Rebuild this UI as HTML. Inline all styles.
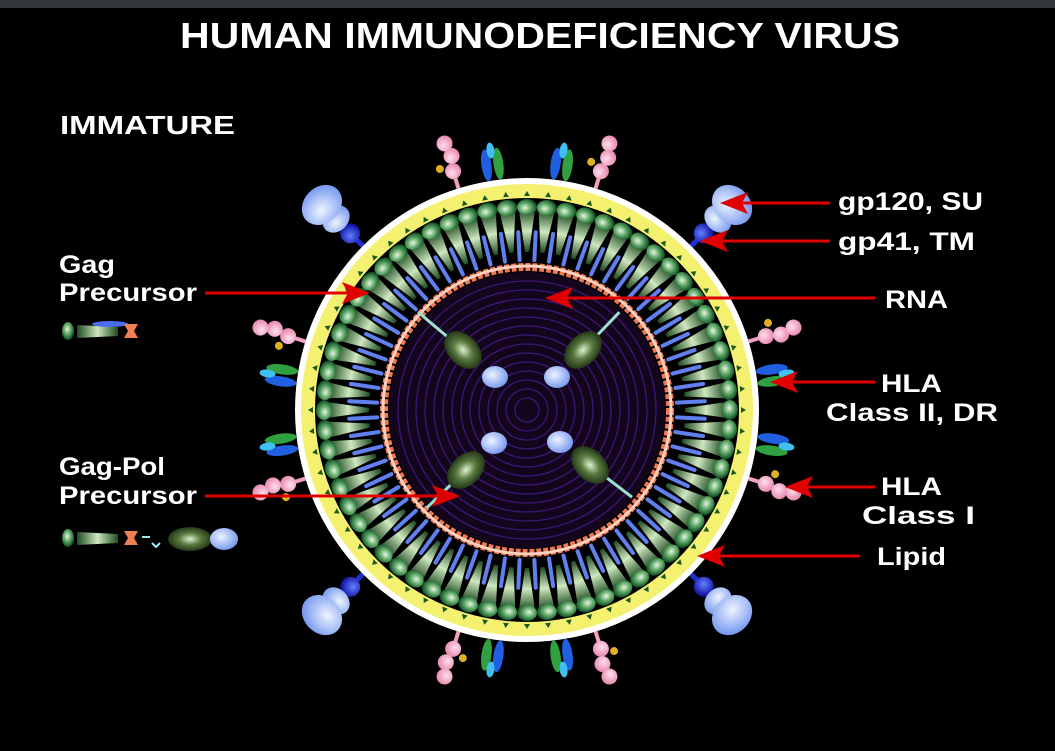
<!DOCTYPE html>
<html><head><meta charset="utf-8"><style>
html,body{margin:0;padding:0;background:#000;}
body{width:1055px;height:751px;overflow:hidden;position:relative;}
svg{position:absolute;left:0;top:0;}
text{font-family:"Liberation Sans",sans-serif;font-weight:bold;fill:#fff;}
</style></head><body>
<svg id="s" width="1055" height="751" viewBox="0 0 1055 751" xmlns="http://www.w3.org/2000/svg">
<defs>
<radialGradient id="bead" cx="0.45" cy="0.4" r="0.6"><stop offset="0" stop-color="#e8f5e0"/><stop offset="0.5" stop-color="#5ea868"/><stop offset="1" stop-color="#0d4a1e"/></radialGradient>
<linearGradient id="cone" x1="0" y1="0" x2="1" y2="0"><stop offset="0" stop-color="#1e4a22"/><stop offset="0.5" stop-color="#cfe8c0"/><stop offset="1" stop-color="#1e4a22"/></linearGradient>
<radialGradient id="cap" cx="0.5" cy="0.5" r="0.55"><stop offset="0" stop-color="#e0f0d0"/><stop offset="0.45" stop-color="#5a7a40"/><stop offset="1" stop-color="#1a2a10"/></radialGradient>
<radialGradient id="lb" cx="0.4" cy="0.4" r="0.6"><stop offset="0" stop-color="#eef4ff"/><stop offset="1" stop-color="#7b9cf0"/></radialGradient>
<radialGradient id="pk" cx="0.4" cy="0.4" r="0.6"><stop offset="0" stop-color="#ffe0ee"/><stop offset="1" stop-color="#e88ab0"/></radialGradient>
<radialGradient id="bl" cx="0.4" cy="0.4" r="0.6"><stop offset="0" stop-color="#6080ff"/><stop offset="1" stop-color="#1010a0"/></radialGradient>
</defs>
<rect x="0" y="0" width="1055" height="8" fill="#35383b"/>
<text x="180" y="48" font-size="36" textLength="720" lengthAdjust="spacingAndGlyphs">HUMAN IMMUNODEFICIENCY VIRUS</text>
<text x="60" y="134" font-size="26" textLength="175" lengthAdjust="spacingAndGlyphs">IMMATURE</text>
<g id="v"></g>
<g font-size="25">
<text x="59" y="273" textLength="56" lengthAdjust="spacingAndGlyphs">Gag</text><text x="59" y="301" textLength="138" lengthAdjust="spacingAndGlyphs">Precursor</text>
<text x="59" y="475" textLength="106" lengthAdjust="spacingAndGlyphs">Gag-Pol</text><text x="59" y="504" textLength="138" lengthAdjust="spacingAndGlyphs">Precursor</text>
<text x="838" y="210" textLength="145" lengthAdjust="spacingAndGlyphs">gp120, SU</text>
<text x="838" y="250" textLength="137" lengthAdjust="spacingAndGlyphs">gp41, TM</text>
<text x="885" y="308" textLength="63" lengthAdjust="spacingAndGlyphs">RNA</text>
<text x="881" y="392" textLength="61" lengthAdjust="spacingAndGlyphs">HLA</text><text x="826" y="421" textLength="172" lengthAdjust="spacingAndGlyphs">Class II, DR</text>
<text x="881" y="495" textLength="61" lengthAdjust="spacingAndGlyphs">HLA</text><text x="862" y="524" textLength="113" lengthAdjust="spacingAndGlyphs">Class I</text>
<text x="877" y="565" textLength="69" lengthAdjust="spacingAndGlyphs">Lipid</text>
</g>
<g id="arr"></g>
<g>
<ellipse cx="68" cy="331" rx="6" ry="9" fill="url(#bead)"/>
<path d="M77 325 L118 327 L118 336 L77 338 Z" fill="url(#cone)"/>
<ellipse cx="110" cy="324" rx="18" ry="3" fill="#4a6cf0"/>
<path d="M124 324 h14 l-4 7 l4 7 h-14 l4 -7z" fill="#f08050"/>
<ellipse cx="68" cy="538" rx="6" ry="9" fill="url(#bead)"/>
<path d="M77 532 L118 534 L118 543 L77 545 Z" fill="url(#cone)"/>
<path d="M124 531 h14 l-4 7 l4 7 h-14 l4 -7z" fill="#f08050"/>
<path d="M142 537 h8 M152 543 l4 4 l4 -4" stroke="#9ee" stroke-width="2" fill="none"/>
<ellipse cx="190" cy="539" rx="22" ry="12" fill="url(#cap)"/>
<ellipse cx="224" cy="539" rx="14" ry="11" fill="url(#lb)"/>
</g>
</svg>
<script>
(function(){
var ns="http://www.w3.org/2000/svg",g=document.getElementById('v');
function el(t,a,p){var e=document.createElementNS(ns,t);for(var k in a)e.setAttribute(k,a[k]);(p||g).appendChild(e);return e;}
var cx=527,cy=410;
var hl=[-Math.PI/2-0.14,-Math.PI/2+0.14,Math.PI/2-0.14,Math.PI/2+0.14,Math.PI-0.14,Math.PI+0.14,-0.14,0.14,
        -Math.PI/2-0.3,-Math.PI/2+0.3,Math.PI/2-0.3,Math.PI/2+0.3,Math.PI-0.3,Math.PI+0.3,-0.3,0.3];
hl.forEach(function(a,i){
  var d=a*180/Math.PI;
  var gg=el('g',{transform:'rotate('+d+' '+cx+' '+cy+')'});
  if(i<8){
    el('ellipse',{cx:cx+248,cy:cy-6,rx:16,ry:5,fill:'#2060e0'},gg);
    el('ellipse',{cx:cx+248,cy:cy+6,rx:16,ry:5,fill:'#30a040'},gg);
    el('ellipse',{cx:cx+262,cy:cy,rx:8,ry:4,fill:'#40c0f0'},gg);
  } else {
    el('line',{x1:cx+232,y1:cy,x2:cx+244,y2:cy,stroke:'#f0a0c0','stroke-width':4},gg);
    el('circle',{cx:cx+250,cy:cy,r:8,fill:'url(#pk)'},gg);
    el('circle',{cx:cx+265,cy:cy+3,r:8,fill:'url(#pk)'},gg);
    el('circle',{cx:cx+279,cy:cy,r:8,fill:'url(#pk)'},gg);
    el('circle',{cx:cx+256,cy:cy-12,r:4,fill:'#e0b020'},gg);
  }
});
[-3*Math.PI/4,-Math.PI/4,Math.PI/4,3*Math.PI/4].forEach(function(a){
  var d=a*180/Math.PI;var gg=el('g',{transform:'rotate('+d+' '+cx+' '+cy+')'});
  el('line',{x1:cx+205,y1:cy,x2:cx+245,y2:cy,stroke:'#2030d0','stroke-width':5},gg);
  el('circle',{cx:cx+210,cy:cy,r:8,fill:'url(#bl)'},gg);
  el('circle',{cx:cx+250,cy:cy,r:10,fill:'url(#bl)'},gg);
  el('ellipse',{cx:cx+270,cy:cy,rx:12,ry:15,fill:'url(#lb)'},gg);
  el('ellipse',{cx:cx+290,cy:cy,rx:18,ry:22,fill:'url(#lb)'},gg);
});
el('circle',{cx:cx,cy:cy,r:232,fill:'#fff'});
el('circle',{cx:cx,cy:cy,r:226,fill:'#f4f070'});
el('circle',{cx:cx,cy:cy,r:212,fill:'#000'});
var N=64,i;
for(i=0;i<N;i++){var d=i*360/N;var gg=el('g',{transform:'rotate('+d+' '+cx+' '+cy+')'});
  el('path',{d:'M'+(cx+214)+' '+(cy-3)+' l5 3 l-5 3z',fill:'#1a5a20'},gg);
  el('path',{d:'M'+(cx+200)+' '+(cy-8)+' L'+(cx+158)+' '+(cy-2)+' L'+(cx+158)+' '+(cy+2)+' L'+(cx+200)+' '+(cy+8)+'Z',fill:'url(#cone)'},gg);
  el('ellipse',{cx:cx+203,cy:cy,rx:8,ry:10,fill:'url(#bead)'},gg);
}
for(i=0;i<N;i++){var d=(i+0.5)*360/N;var gg=el('g',{transform:'rotate('+d+' '+cx+' '+cy+')'});
  el('line',{x1:cx+178,y1:cy,x2:cx+150,y2:cy,stroke:'#6080f0','stroke-width':4,'stroke-linecap':'round'},gg);
}
el('circle',{cx:cx,cy:cy,r:143,fill:'none',stroke:'#f07850','stroke-width':8,'stroke-dasharray':'5 2'});
el('circle',{cx:cx,cy:cy,r:144,fill:'none',stroke:'#ffd0c0','stroke-width':3});
el('circle',{cx:cx,cy:cy,r:138,fill:'#13051c'});
for(var r=12;r<135;r+=9)el('circle',{cx:cx,cy:cy,r:r,fill:'none',stroke:'#4a1a90','stroke-width':1.3,opacity:0.8});
[[463,350,495,377,45],[583,350,557,377,135],[466,470,494,443,-45],[590,465,560,442,-135]].forEach(function(c){
  el('line',{x1:c[0],y1:c[1],x2:c[0]+(c[0]-c[2])*1.4,y2:c[1]+(c[1]-c[3])*1.4,stroke:'#9ee0d0','stroke-width':3});
  el('ellipse',{cx:c[0],cy:c[1],rx:22,ry:15,fill:'url(#cap)',transform:'rotate('+c[4]+' '+c[0]+' '+c[1]+')'});
  el('ellipse',{cx:c[2],cy:c[3],rx:13,ry:11,fill:'url(#lb)'});
});
var a=document.getElementById('arr');
[[205,293,370,293],[205,496,460,496],[830,203,720,203],[830,241,700,241],[875,298,545,298],[875,382,770,382],[875,487,785,487],[860,556,697,556]].forEach(function(q){
  var dir=q[2]>q[0]?1:-1;
  el('line',{x1:q[0],y1:q[1],x2:q[2]-dir*20,y2:q[3],stroke:'#e00000','stroke-width':3},a);
  el('path',{d:'M'+q[2]+' '+q[3]+' L'+(q[2]-dir*28)+' '+(q[3]-11)+' L'+(q[2]-dir*22)+' '+q[3]+' L'+(q[2]-dir*28)+' '+(q[3]+11)+'Z',fill:'#e00000'},a);
});
})();
</script>
</body></html>
